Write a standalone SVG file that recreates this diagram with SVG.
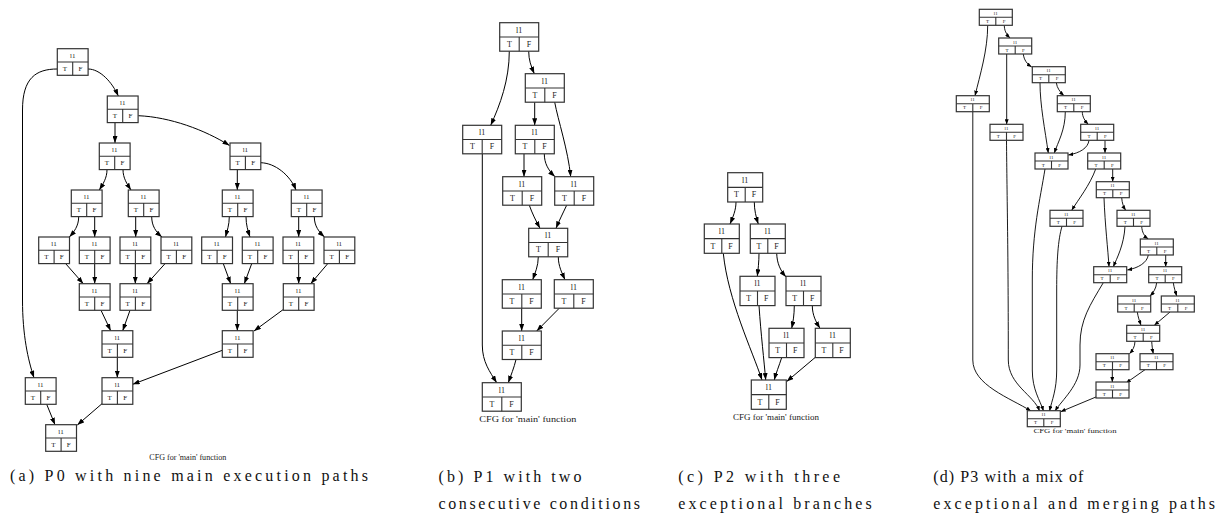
<svg xmlns="http://www.w3.org/2000/svg" xmlns:xlink="http://www.w3.org/1999/xlink" width="1223" height="521" viewBox="0 0 1223 521">
  <style>
    .bx { fill: #fff; stroke: #333; stroke-width: 1.2; }
    .dv { fill: none; stroke: #333; stroke-width: 1.1; }
    .n text { font-family: "Liberation Serif", "Times New Roman", serif; text-anchor: middle; fill: #222; }
    .pa text { font-size: 7px; }
    .pb text, .pc text { font-size: 8px; }
    .pd text { font-size: 5px; }
    .e { fill: none; stroke: #000; stroke-width: 1; marker-end: url(#ah); }
    .es { fill: none; stroke: #000; stroke-width: 0.9; marker-end: url(#ahs); }
    .cfg { font-family: "Liberation Serif", "Times New Roman", serif; fill: #222; text-anchor: middle; }
    .cap { font-family: "Liberation Serif", "Times New Roman", serif; font-size: 16px; fill: #111; }
  </style>
  <defs>
    <marker id="ah" viewBox="0 0 7 5" refX="7" refY="2.5" markerWidth="7" markerHeight="5" orient="auto" markerUnits="userSpaceOnUse">
      <path d="M0,0 L7,2.5 L0,5 z" fill="#000"/>
    </marker>
    <marker id="ahs" viewBox="0 0 5 4" refX="5" refY="2" markerWidth="5" markerHeight="4" orient="auto" markerUnits="userSpaceOnUse">
      <path d="M0,0 L5,2 L0,4 z" fill="#000"/>
    </marker>
    <!-- record shapes: header cell over two port cells -->
    <g id="boxA"><rect class="bx" x="0" y="0" width="30.8" height="26.6"/><path class="dv" d="M0,13.3 H30.8 M15.4,13.3 V26.6"/></g>
    <g id="boxB"><rect class="bx" x="0" y="0" width="39" height="28.5"/><path class="dv" d="M0,14.25 H39 M19.5,14.25 V28.5"/></g>
    <g id="boxC"><rect class="bx" x="0" y="0" width="35" height="29.3"/><path class="dv" d="M0,14.65 H35 M17.5,14.65 V29.3"/></g>
    <g id="boxD"><rect class="bx" x="0" y="0" width="33" height="16"/><path class="dv" d="M0,8 H33 M16.5,8 V16"/></g>
  </defs>
  <rect width="1223" height="521" fill="#fff"/>

  <!-- ===== P0 ===== -->
  <g id="p0-edges">
    <path class="e" d="M57.3,69 C36,69 22.5,78 22.5,110 L22.5,300 C22.5,335 28,360 34,377.7"/>
    <path class="e" d="M88,69 C100,69 112,82 118.3,96"/>
    <path class="e" d="M115,122.7 L115,143"/>
    <path class="e" d="M138.3,115.7 C170,117 205,130 229.5,145.5"/>
    <path class="e" d="M107,169.7 C107,178 103,184 99.3,190"/>
    <path class="e" d="M123,169.7 C123,178 127,184 131,190"/>
    <path class="e" d="M237.3,169.7 L237.3,190"/>
    <path class="e" d="M260.7,162.7 C275,163 290,175 296,190"/>
    <path class="e" d="M78.7,216.7 C78.7,226 74,232 69.3,237"/>
    <path class="e" d="M94.7,216.7 L94.7,237"/>
    <path class="e" d="M135.7,216.7 L135.7,237"/>
    <path class="e" d="M151.7,216.7 C151.7,226 156,232 162,237"/>
    <path class="e" d="M229.3,216.7 C229.3,225 227,231 225.5,237"/>
    <path class="e" d="M246,216.7 C246,225 248,231 250,237"/>
    <path class="e" d="M298.7,216.7 L298.7,237"/>
    <path class="e" d="M314.3,216.7 C314.3,226 319,232 324.5,237"/>
    <path class="e" d="M65.7,263.7 L83.3,283.7"/>
    <path class="e" d="M94.7,263.7 L94.7,283.7"/>
    <path class="e" d="M135.3,263.7 L135.3,283.7"/>
    <path class="e" d="M165,263.7 L147,283.7"/>
    <path class="e" d="M223.3,263.7 L230.7,283.7"/>
    <path class="e" d="M251.7,263.7 L244.3,283.7"/>
    <path class="e" d="M298.7,263.7 L298.7,283.7"/>
    <path class="e" d="M327.7,263.7 L310.7,283.7"/>
    <path class="e" d="M101,310.3 L110.7,330.7"/>
    <path class="e" d="M130,310.3 L122.7,330.7"/>
    <path class="e" d="M237.3,310.3 L237.3,330.7"/>
    <path class="e" d="M283,309.7 L254,331"/>
    <path class="e" d="M117.3,357.3 L117.3,377.7"/>
    <path class="e" d="M222.3,350.3 L132.7,384.3"/>
    <path class="e" d="M46.7,404.3 L55,424.7"/>
    <path class="e" d="M102,403.7 L77.3,425"/>
  </g>
  <g id="a01" class="n pa" transform="translate(57.3,48.7)"><use xlink:href="#boxA"/><text x="15.4" y="9">l1</text><text x="7.7" y="22.3">T</text><text x="23.1" y="22.3">F</text></g>
  <g id="a02" class="n pa" transform="translate(107.3,96)"><use xlink:href="#boxA"/><text x="15.4" y="9">l1</text><text x="7.7" y="22.3">T</text><text x="23.1" y="22.3">F</text></g>
  <g id="a03" class="n pa" transform="translate(99.3,143)"><use xlink:href="#boxA"/><text x="15.4" y="9">l1</text><text x="7.7" y="22.3">T</text><text x="23.1" y="22.3">F</text></g>
  <g id="a04" class="n pa" transform="translate(230,143)"><use xlink:href="#boxA"/><text x="15.4" y="9">l1</text><text x="7.7" y="22.3">T</text><text x="23.1" y="22.3">F</text></g>
  <g id="a05" class="n pa" transform="translate(71.3,190)"><use xlink:href="#boxA"/><text x="15.4" y="9">l1</text><text x="7.7" y="22.3">T</text><text x="23.1" y="22.3">F</text></g>
  <g id="a06" class="n pa" transform="translate(128.3,190)"><use xlink:href="#boxA"/><text x="15.4" y="9">l1</text><text x="7.7" y="22.3">T</text><text x="23.1" y="22.3">F</text></g>
  <g id="a07" class="n pa" transform="translate(222.3,190)"><use xlink:href="#boxA"/><text x="15.4" y="9">l1</text><text x="7.7" y="22.3">T</text><text x="23.1" y="22.3">F</text></g>
  <g id="a08" class="n pa" transform="translate(291.3,190)"><use xlink:href="#boxA"/><text x="15.4" y="9">l1</text><text x="7.7" y="22.3">T</text><text x="23.1" y="22.3">F</text></g>
  <g id="a09" class="n pa" transform="translate(38.7,237)"><use xlink:href="#boxA"/><text x="15.4" y="9">l1</text><text x="7.7" y="22.3">T</text><text x="23.1" y="22.3">F</text></g>
  <g id="a10" class="n pa" transform="translate(79.3,237)"><use xlink:href="#boxA"/><text x="15.4" y="9">l1</text><text x="7.7" y="22.3">T</text><text x="23.1" y="22.3">F</text></g>
  <g id="a11" class="n pa" transform="translate(120,237)"><use xlink:href="#boxA"/><text x="15.4" y="9">l1</text><text x="7.7" y="22.3">T</text><text x="23.1" y="22.3">F</text></g>
  <g id="a12" class="n pa" transform="translate(161,237)"><use xlink:href="#boxA"/><text x="15.4" y="9">l1</text><text x="7.7" y="22.3">T</text><text x="23.1" y="22.3">F</text></g>
  <g id="a13" class="n pa" transform="translate(201.7,237)"><use xlink:href="#boxA"/><text x="15.4" y="9">l1</text><text x="7.7" y="22.3">T</text><text x="23.1" y="22.3">F</text></g>
  <g id="a14" class="n pa" transform="translate(242.3,237)"><use xlink:href="#boxA"/><text x="15.4" y="9">l1</text><text x="7.7" y="22.3">T</text><text x="23.1" y="22.3">F</text></g>
  <g id="a15" class="n pa" transform="translate(283,237)"><use xlink:href="#boxA"/><text x="15.4" y="9">l1</text><text x="7.7" y="22.3">T</text><text x="23.1" y="22.3">F</text></g>
  <g id="a16" class="n pa" transform="translate(324,237)"><use xlink:href="#boxA"/><text x="15.4" y="9">l1</text><text x="7.7" y="22.3">T</text><text x="23.1" y="22.3">F</text></g>
  <g id="a17" class="n pa" transform="translate(79.3,283.7)"><use xlink:href="#boxA"/><text x="15.4" y="9">l1</text><text x="7.7" y="22.3">T</text><text x="23.1" y="22.3">F</text></g>
  <g id="a18" class="n pa" transform="translate(120,283.7)"><use xlink:href="#boxA"/><text x="15.4" y="9">l1</text><text x="7.7" y="22.3">T</text><text x="23.1" y="22.3">F</text></g>
  <g id="a19" class="n pa" transform="translate(222.3,283.7)"><use xlink:href="#boxA"/><text x="15.4" y="9">l1</text><text x="7.7" y="22.3">T</text><text x="23.1" y="22.3">F</text></g>
  <g id="a20" class="n pa" transform="translate(283.3,283.7)"><use xlink:href="#boxA"/><text x="15.4" y="9">l1</text><text x="7.7" y="22.3">T</text><text x="23.1" y="22.3">F</text></g>
  <g id="a21" class="n pa" transform="translate(102,330.7)"><use xlink:href="#boxA"/><text x="15.4" y="9">l1</text><text x="7.7" y="22.3">T</text><text x="23.1" y="22.3">F</text></g>
  <g id="a22" class="n pa" transform="translate(222.3,330.7)"><use xlink:href="#boxA"/><text x="15.4" y="9">l1</text><text x="7.7" y="22.3">T</text><text x="23.1" y="22.3">F</text></g>
  <g id="a23" class="n pa" transform="translate(25.3,377.7)"><use xlink:href="#boxA"/><text x="15.4" y="9">l1</text><text x="7.7" y="22.3">T</text><text x="23.1" y="22.3">F</text></g>
  <g id="a24" class="n pa" transform="translate(102,377.7)"><use xlink:href="#boxA"/><text x="15.4" y="9">l1</text><text x="7.7" y="22.3">T</text><text x="23.1" y="22.3">F</text></g>
  <g id="a25" class="n pa" transform="translate(45.7,424.7)"><use xlink:href="#boxA"/><text x="15.4" y="9">l1</text><text x="7.7" y="22.3">T</text><text x="23.1" y="22.3">F</text></g>
  <text class="cfg" x="187.8" y="460" font-size="8" textLength="77" lengthAdjust="spacingAndGlyphs">CFG for 'main' function</text>

  <!-- ===== P1 ===== -->
  <g id="p1-edges">
    <path class="e" d="M509.3,51.2 C509.3,80 500,105 490.7,125.3"/>
    <path class="e" d="M528.7,51.2 C528.7,60 531,66 534.3,73.7"/>
    <path class="e" d="M534.7,102.2 L534.7,125.3"/>
    <path class="e" d="M554.7,102.2 C558,120 568,150 570.7,176.7"/>
    <path class="e" d="M482.3,153.8 L482.3,345 C482.3,362 490,372 496.7,382.7"/>
    <path class="e" d="M524,153.8 L524,176.7"/>
    <path class="e" d="M544.3,153.8 C544.3,163 548,170 555,176.7"/>
    <path class="e" d="M529.3,205.2 C532,213 536,221 540,228.3"/>
    <path class="e" d="M566.7,205.2 C563,213 559,221 556,228.3"/>
    <path class="e" d="M538.3,256.8 C538.3,266 535,273 532.7,279.7"/>
    <path class="e" d="M558.3,256.8 C558.3,266 562,273 565,279.7"/>
    <path class="e" d="M521.7,308.2 L521.7,331"/>
    <path class="e" d="M559.3,308.2 L536.7,331"/>
    <path class="e" d="M516,359.5 C514,368 511,375 508.3,382.7"/>
  </g>
  <g id="b01" class="n pb" transform="translate(499.7,22.7)"><use xlink:href="#boxB"/><text x="19.5" y="9.9">l1</text><text x="9.75" y="24">T</text><text x="29.25" y="24">F</text></g>
  <g id="b02" class="n pb" transform="translate(525.3,73.7)"><use xlink:href="#boxB"/><text x="19.5" y="9.9">l1</text><text x="9.75" y="24">T</text><text x="29.25" y="24">F</text></g>
  <g id="b03" class="n pb" transform="translate(462.7,125.3)"><use xlink:href="#boxB"/><text x="19.5" y="9.9">l1</text><text x="9.75" y="24">T</text><text x="29.25" y="24">F</text></g>
  <g id="b04" class="n pb" transform="translate(515.3,125.3)"><use xlink:href="#boxB"/><text x="19.5" y="9.9">l1</text><text x="9.75" y="24">T</text><text x="29.25" y="24">F</text></g>
  <g id="b05" class="n pb" transform="translate(502.7,176.7)"><use xlink:href="#boxB"/><text x="19.5" y="9.9">l1</text><text x="9.75" y="24">T</text><text x="29.25" y="24">F</text></g>
  <g id="b06" class="n pb" transform="translate(554.7,176.7)"><use xlink:href="#boxB"/><text x="19.5" y="9.9">l1</text><text x="9.75" y="24">T</text><text x="29.25" y="24">F</text></g>
  <g id="b07" class="n pb" transform="translate(528.7,228.3)"><use xlink:href="#boxB"/><text x="19.5" y="9.9">l1</text><text x="9.75" y="24">T</text><text x="29.25" y="24">F</text></g>
  <g id="b08" class="n pb" transform="translate(502.3,279.7)"><use xlink:href="#boxB"/><text x="19.5" y="9.9">l1</text><text x="9.75" y="24">T</text><text x="29.25" y="24">F</text></g>
  <g id="b09" class="n pb" transform="translate(554.3,279.7)"><use xlink:href="#boxB"/><text x="19.5" y="9.9">l1</text><text x="9.75" y="24">T</text><text x="29.25" y="24">F</text></g>
  <g id="b10" class="n pb" transform="translate(502.3,331)"><use xlink:href="#boxB"/><text x="19.5" y="9.9">l1</text><text x="9.75" y="24">T</text><text x="29.25" y="24">F</text></g>
  <g id="b11" class="n pb" transform="translate(482.3,382.7)"><use xlink:href="#boxB"/><text x="19.5" y="9.9">l1</text><text x="9.75" y="24">T</text><text x="29.25" y="24">F</text></g>
  <text class="cfg" x="527.8" y="421.5" font-size="9" textLength="97" lengthAdjust="spacingAndGlyphs">CFG for 'main' function</text>

  <!-- ===== P2 ===== -->
  <g id="p2-edges">
    <path class="e" d="M736,202 C736,210 733,217 730,224"/>
    <path class="e" d="M754.3,202 C754.3,210 756,217 758.3,224"/>
    <path class="e" d="M723.3,253.3 C728,300 752,350 762,380"/>
    <path class="e" d="M759,253.3 C759,262 758,270 757.3,276.3"/>
    <path class="e" d="M776.7,253.3 C777,263 780,270 786,277"/>
    <path class="e" d="M759,305.6 C761,335 764,360 765.7,380"/>
    <path class="e" d="M794.3,305.6 C794.3,315 793,322 791.7,328.3"/>
    <path class="e" d="M812.3,305.6 C812.3,315 816,322 820,328.3"/>
    <path class="e" d="M781.7,357.6 C779,366 776,373 774.3,380"/>
    <path class="e" d="M815,357.6 L786.7,381.5"/>
  </g>
  <g id="c01" class="n pc" transform="translate(727.7,172.7)"><use xlink:href="#boxC"/><text x="17.5" y="10">l1</text><text x="8.75" y="24.6">T</text><text x="26.25" y="24.6">F</text></g>
  <g id="c02" class="n pc" transform="translate(704.3,224)"><use xlink:href="#boxC"/><text x="17.5" y="10">l1</text><text x="8.75" y="24.6">T</text><text x="26.25" y="24.6">F</text></g>
  <g id="c03" class="n pc" transform="translate(750.3,224)"><use xlink:href="#boxC"/><text x="17.5" y="10">l1</text><text x="8.75" y="24.6">T</text><text x="26.25" y="24.6">F</text></g>
  <g id="c04" class="n pc" transform="translate(740,276.3)"><use xlink:href="#boxC"/><text x="17.5" y="10">l1</text><text x="8.75" y="24.6">T</text><text x="26.25" y="24.6">F</text></g>
  <g id="c05" class="n pc" transform="translate(786,276.3)"><use xlink:href="#boxC"/><text x="17.5" y="10">l1</text><text x="8.75" y="24.6">T</text><text x="26.25" y="24.6">F</text></g>
  <g id="c06" class="n pc" transform="translate(769,328.3)"><use xlink:href="#boxC"/><text x="17.5" y="10">l1</text><text x="8.75" y="24.6">T</text><text x="26.25" y="24.6">F</text></g>
  <g id="c07" class="n pc" transform="translate(815.3,328.3)"><use xlink:href="#boxC"/><text x="17.5" y="10">l1</text><text x="8.75" y="24.6">T</text><text x="26.25" y="24.6">F</text></g>
  <g id="c08" class="n pc" transform="translate(751.3,380)"><use xlink:href="#boxC"/><text x="17.5" y="10">l1</text><text x="8.75" y="24.6">T</text><text x="26.25" y="24.6">F</text></g>
  <text class="cfg" x="776" y="419.5" font-size="8.5" textLength="86" lengthAdjust="spacingAndGlyphs">CFG for 'main' function</text>

  <!-- ===== P3 ===== -->
  <g id="p3-edges">
    <path class="es" d="M987.7,25.3 C987.7,50 980,75 975,95.7"/>
    <path class="es" d="M1004.3,25.3 C1004.3,30 1006,34 1010,38"/>
    <path class="es" d="M1006.7,54 L1006.7,124.3"/>
    <path class="es" d="M1023.3,54 C1024,60 1027,64 1031.7,67"/>
    <path class="es" d="M1040,82.7 C1040,105 1045,130 1048.3,153"/>
    <path class="es" d="M1056.3,82.7 C1057,88 1060,92 1064,95.7"/>
    <path class="es" d="M1065.3,111.7 C1065.3,130 1058,142 1054.3,153"/>
    <path class="es" d="M1082.3,111.7 C1082.3,117 1085,121 1088.3,124.3"/>
    <path class="es" d="M1089,140.3 C1088,148 1080,153 1068.3,155"/>
    <path class="es" d="M1105,140.3 L1105,153"/>
    <path class="es" d="M1095.7,169 C1090,185 1078,200 1071.7,210.3"/>
    <path class="es" d="M1112.7,169 L1112.7,181.7"/>
    <path class="es" d="M1104,197.7 C1105,225 1108,250 1109,266.7"/>
    <path class="es" d="M1121.7,197.7 C1122,203 1123.5,207 1125.7,210.3"/>
    <path class="es" d="M1125,226.3 C1124,245 1117,258 1113.3,266.7"/>
    <path class="es" d="M1141.7,226.3 C1142,232 1144,236 1148.3,239"/>
    <path class="es" d="M1148.3,255 C1147,263 1138,268 1127.3,270"/>
    <path class="es" d="M1165.7,255 L1165.7,266.7"/>
    <path class="es" d="M1156.7,282.7 C1156,289 1153,293 1150,296"/>
    <path class="es" d="M1173.3,282.7 C1174,288 1175.5,292 1176.7,296"/>
    <path class="es" d="M1137.3,312 C1138,317 1139.5,321 1141,325.3"/>
    <path class="es" d="M1170,312 L1154.3,325.3"/>
    <path class="es" d="M1135,341.3 C1135,347 1132,351 1129.5,353.7"/>
    <path class="es" d="M1151.7,341.3 C1152,346 1152.5,350 1153.3,353.7"/>
    <path class="es" d="M1112.3,369.7 L1112.3,382"/>
    <path class="es" d="M1145,369.7 L1126,383"/>
    <path class="es" d="M972.8,111.7 L972.8,360 C972.8,385 1010,398 1031,411"/>
    <path class="es" d="M1006.5,140.3 C1007,200 1008.3,250 1008.3,360 C1008.3,385 1034,395 1039.5,411"/>
    <path class="es" d="M1045,169 C1040,200 1032.3,230 1032.3,280 L1032.3,370 C1032.3,390 1040,400 1043.5,411"/>
    <path class="es" d="M1062,226.3 C1058,240 1056.7,260 1056.7,290 L1056.7,370 C1056.7,390 1052,400 1049.5,411"/>
    <path class="es" d="M1103.3,282.7 C1090,305 1080,320 1080,345 L1080,365 C1080,385 1062,400 1055,411"/>
    <path class="es" d="M1096.7,396.7 L1060.7,411.7"/>
  </g>
  <g id="d01" class="n pd" transform="translate(979.3,9.3)"><use xlink:href="#boxD"/><text x="16.5" y="5.8">l1</text><text x="8.25" y="13.8">T</text><text x="24.75" y="13.8">F</text></g>
  <g id="d02" class="n pd" transform="translate(998.7,38)"><use xlink:href="#boxD"/><text x="16.5" y="5.8">l1</text><text x="8.25" y="13.8">T</text><text x="24.75" y="13.8">F</text></g>
  <g id="d03" class="n pd" transform="translate(1032.3,66.7)"><use xlink:href="#boxD"/><text x="16.5" y="5.8">l1</text><text x="8.25" y="13.8">T</text><text x="24.75" y="13.8">F</text></g>
  <g id="d04" class="n pd" transform="translate(956.3,95.7)"><use xlink:href="#boxD"/><text x="16.5" y="5.8">l1</text><text x="8.25" y="13.8">T</text><text x="24.75" y="13.8">F</text></g>
  <g id="d05" class="n pd" transform="translate(1057.3,95.7)"><use xlink:href="#boxD"/><text x="16.5" y="5.8">l1</text><text x="8.25" y="13.8">T</text><text x="24.75" y="13.8">F</text></g>
  <g id="d06" class="n pd" transform="translate(990,124.3)"><use xlink:href="#boxD"/><text x="16.5" y="5.8">l1</text><text x="8.25" y="13.8">T</text><text x="24.75" y="13.8">F</text></g>
  <g id="d07" class="n pd" transform="translate(1080.7,124.3)"><use xlink:href="#boxD"/><text x="16.5" y="5.8">l1</text><text x="8.25" y="13.8">T</text><text x="24.75" y="13.8">F</text></g>
  <g id="d08" class="n pd" transform="translate(1035,153)"><use xlink:href="#boxD"/><text x="16.5" y="5.8">l1</text><text x="8.25" y="13.8">T</text><text x="24.75" y="13.8">F</text></g>
  <g id="d09" class="n pd" transform="translate(1087.7,153)"><use xlink:href="#boxD"/><text x="16.5" y="5.8">l1</text><text x="8.25" y="13.8">T</text><text x="24.75" y="13.8">F</text></g>
  <g id="d10" class="n pd" transform="translate(1096.3,181.7)"><use xlink:href="#boxD"/><text x="16.5" y="5.8">l1</text><text x="8.25" y="13.8">T</text><text x="24.75" y="13.8">F</text></g>
  <g id="d11" class="n pd" transform="translate(1050,210.3)"><use xlink:href="#boxD"/><text x="16.5" y="5.8">l1</text><text x="8.25" y="13.8">T</text><text x="24.75" y="13.8">F</text></g>
  <g id="d12" class="n pd" transform="translate(1117,210.3)"><use xlink:href="#boxD"/><text x="16.5" y="5.8">l1</text><text x="8.25" y="13.8">T</text><text x="24.75" y="13.8">F</text></g>
  <g id="d13" class="n pd" transform="translate(1140.3,239)"><use xlink:href="#boxD"/><text x="16.5" y="5.8">l1</text><text x="8.25" y="13.8">T</text><text x="24.75" y="13.8">F</text></g>
  <g id="d14" class="n pd" transform="translate(1093.7,266.7)"><use xlink:href="#boxD"/><text x="16.5" y="5.8">l1</text><text x="8.25" y="13.8">T</text><text x="24.75" y="13.8">F</text></g>
  <g id="d15" class="n pd" transform="translate(1148.7,266.7)"><use xlink:href="#boxD"/><text x="16.5" y="5.8">l1</text><text x="8.25" y="13.8">T</text><text x="24.75" y="13.8">F</text></g>
  <g id="d16" class="n pd" transform="translate(1117.7,296)"><use xlink:href="#boxD"/><text x="16.5" y="5.8">l1</text><text x="8.25" y="13.8">T</text><text x="24.75" y="13.8">F</text></g>
  <g id="d17" class="n pd" transform="translate(1161.3,296)"><use xlink:href="#boxD"/><text x="16.5" y="5.8">l1</text><text x="8.25" y="13.8">T</text><text x="24.75" y="13.8">F</text></g>
  <g id="d18" class="n pd" transform="translate(1126.7,325.3)"><use xlink:href="#boxD"/><text x="16.5" y="5.8">l1</text><text x="8.25" y="13.8">T</text><text x="24.75" y="13.8">F</text></g>
  <g id="d19" class="n pd" transform="translate(1096,353.7)"><use xlink:href="#boxD"/><text x="16.5" y="5.8">l1</text><text x="8.25" y="13.8">T</text><text x="24.75" y="13.8">F</text></g>
  <g id="d20" class="n pd" transform="translate(1140,353.7)"><use xlink:href="#boxD"/><text x="16.5" y="5.8">l1</text><text x="8.25" y="13.8">T</text><text x="24.75" y="13.8">F</text></g>
  <g id="d21" class="n pd" transform="translate(1096,382)"><use xlink:href="#boxD"/><text x="16.5" y="5.8">l1</text><text x="8.25" y="13.8">T</text><text x="24.75" y="13.8">F</text></g>
  <g id="d22" class="n pd" transform="translate(1027.3,410.7)"><use xlink:href="#boxD"/><text x="16.5" y="5.8">l1</text><text x="8.25" y="13.8">T</text><text x="24.75" y="13.8">F</text></g>
  <text class="cfg" x="1075" y="433" font-size="7" textLength="83" lengthAdjust="spacingAndGlyphs">CFG for 'main' function</text>

  <!-- ===== sub-figure captions ===== -->
  <text class="cap" x="10" y="481" textLength="358" lengthAdjust="spacing">(a) P0 with nine main execution paths</text>
  <text class="cap" x="438.5" y="481.5" textLength="143" lengthAdjust="spacing">(b) P1 with two</text>
  <text class="cap" x="438.5" y="508.5" textLength="201.5" lengthAdjust="spacing">consecutive conditions</text>
  <text class="cap" x="678.3" y="481.5" textLength="161.7" lengthAdjust="spacing">(c) P2 with three</text>
  <text class="cap" x="678.3" y="508.5" textLength="193.4" lengthAdjust="spacing">exceptional branches</text>
  <text class="cap" x="933.3" y="481.5" textLength="150" lengthAdjust="spacing">(d) P3 with a mix of</text>
  <text class="cap" x="933.3" y="508.5" textLength="281.7" lengthAdjust="spacing">exceptional and merging paths</text>
</svg>
